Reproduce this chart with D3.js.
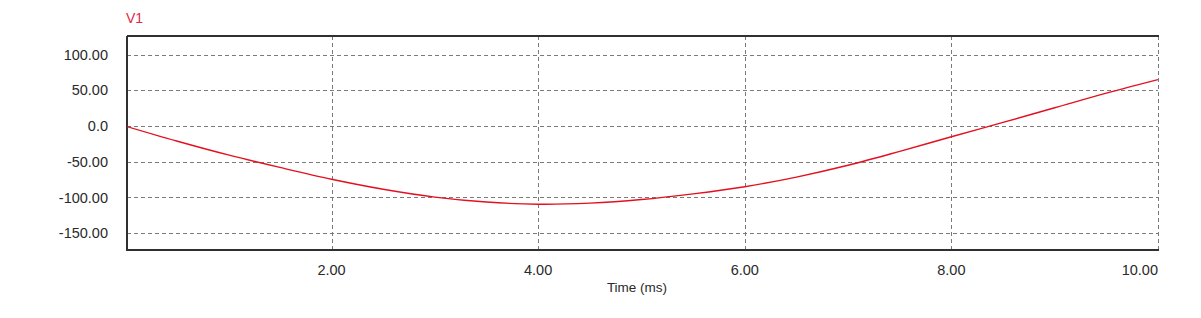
<!DOCTYPE html>
<html>
<head>
<meta charset="utf-8">
<script src="https://cdn.jsdelivr.net/npm/d3@7"></script>
<style>
  html, body { margin: 0; padding: 0; background: #ffffff; }
  svg { display: block; }
  text { font-family: "Liberation Sans", Arial, sans-serif; fill: #2a2a2a; }
</style>
</head>
<body>
<svg id="chart" width="1201" height="318"></svg>
<script>
// ---- data ----
const times = [0, 0.5, 1.0, 1.5, 2.0, 2.5, 3.0, 3.5, 4.0, 4.5, 5.0, 5.5, 6.0, 6.5, 7.0, 7.5, 8.0, 8.5, 9.0, 9.5, 10.0];
const v1 = [0, -21, -40.5, -58, -74.5, -88.5, -99.5, -106.5, -109.5, -108, -103, -95, -85, -71.5, -55, -35.5, -15, 5, 25.5, 46, 65];
const xTicks = [2, 4, 6, 8, 10];
const xTickLabels = ["2.00", "4.00", "6.00", "8.00", "10.00"];
const yTicks = [100, 50, 0, -50, -100, -150];
const yTickLabels = ["100.00", "50.00", "0.0", "-50.00", "-100.00", "-150.00"];
const seriesName = "V1";
const xTitle = "Time (ms)";

// ---- layout ----
const L = 127, R = 1158, T = 36, B = 250;
const svg = d3.select("#chart");

const x = d3.scaleLinear().domain([0.02, 10]).range([L, R]);
const y = d3.scaleLinear().domain([-173.6, 126]).range([B, T]);

// clip
svg.append("defs").append("clipPath").attr("id", "clip")
  .append("rect").attr("x", L).attr("y", T).attr("width", R - L).attr("height", B - T);

// gridlines
const grid = svg.append("g").attr("stroke", "#7a7a7a").attr("stroke-width", 1)
  .attr("stroke-dasharray", "4,3").attr("shape-rendering", "crispEdges");
grid.selectAll("line.h").data(yTicks).join("line").attr("class", "h")
  .attr("x1", L).attr("x2", R)
  .attr("y1", d => Math.round(y(d)) + 0.5).attr("y2", d => Math.round(y(d)) + 0.5);
grid.selectAll("line.v").data(xTicks).join("line").attr("class", "v")
  .attr("x1", d => Math.round(x(d)) + 0.5).attr("x2", d => Math.round(x(d)) + 0.5)
  .attr("y1", T).attr("y2", B);

// frame (top, left, bottom solid)
const frame = svg.append("g").attr("stroke", "#303030").attr("fill", "none").attr("shape-rendering", "crispEdges");
frame.append("line").attr("x1", L).attr("x2", R + 1).attr("y1", T).attr("y2", T).attr("stroke-width", 1.5);
frame.append("line").attr("x1", L).attr("x2", L).attr("y1", T).attr("y2", B + 1).attr("stroke-width", 2);
frame.append("line").attr("x1", L).attr("x2", R + 1).attr("y1", B).attr("y2", B).attr("stroke-width", 2);

// line
const line = d3.line().x((d, i) => x(times[i])).y(d => y(d)).curve(d3.curveCatmullRom);
svg.append("path").datum(v1)
  .attr("clip-path", "url(#clip)")
  .attr("d", line)
  .attr("fill", "none").attr("stroke", "#e3101f").attr("stroke-width", 1.4);

// y tick labels
svg.append("g").selectAll("text").data(yTicks).join("text")
  .attr("x", 108).attr("y", d => y(d))
  .attr("dy", "0.35em").attr("text-anchor", "end")
  .attr("font-size", 14.5)
  .text((d, i) => yTickLabels[i]);

// x tick labels
svg.append("g").selectAll("text").data(xTicks).join("text")
  .attr("x", d => x(d))
  .attr("y", 275)
  .attr("text-anchor", (d, i) => i === xTicks.length - 1 ? "end" : "middle")
  .attr("font-size", 14.5)
  .text((d, i) => xTickLabels[i]);

// axis title
svg.append("text").attr("x", 637).attr("y", 292).attr("text-anchor", "middle")
  .attr("font-size", 13.5).text(xTitle);

// series label
svg.append("text").attr("x", 126).attr("y", 23).attr("font-size", 14)
  .style("fill", "#dd2a48").text(seriesName);
</script>
</body>
</html>
